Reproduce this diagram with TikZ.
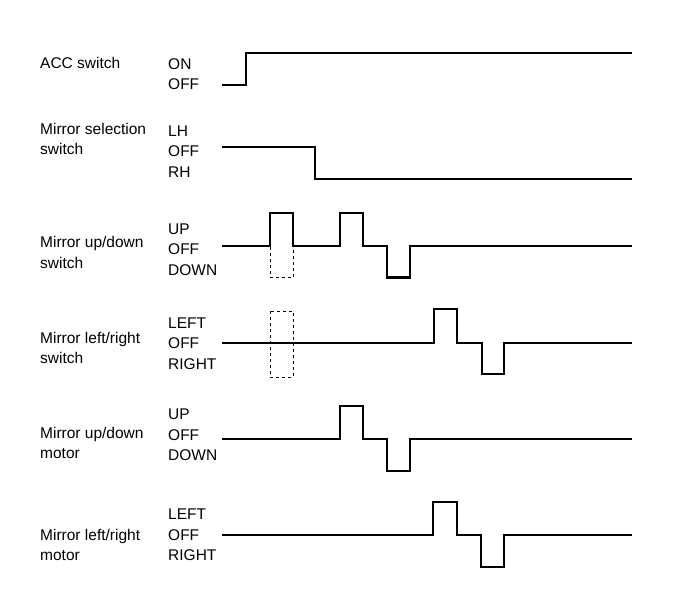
\documentclass[tikz,border=0pt]{standalone}
\usepackage{fontspec}
\setmainfont{Liberation Sans}
\usetikzlibrary{positioning}

\begin{document}
\begin{tikzpicture}[
        x = 1pt, y = -1pt,
        every node/.style = {inner sep = 0pt, font = \fontsize{15.5}{20.5}\selectfont},
        rowname/.style = {anchor = west, align = left},
        levels/.style = {anchor = west, align = left},
        signal/.style = {line width = 2.2pt, line join = miter},
        guide/.style = {line width = 0.9pt, dash pattern = on 3pt off 3pt}
    ]

        \useasboundingbox[fill = white] (0,0) rectangle (688,594);

        % row names
        \node[rowname] (acc) at (40,63) {ACC switch};
        \node[rowname] (sel) at (40,139) {Mirror selection\\switch};
        \node[rowname] (ud_sw) at (40,252.5) {Mirror up/down\\switch};
        \node[rowname] (lr_sw) at (40,348) {Mirror left/right\\switch};
        \node[rowname] (ud_mot) at (40,443) {Mirror up/down\\motor};
        \node[rowname] (lr_mot) at (40,545) {Mirror left/right\\motor};

        % levels
        \node[levels] (acc_lvl) at (168,74) {ON\\OFF};
        \node[levels] (sel_lvl) at (168,151.5) {LH\\OFF\\RH};
        \node[levels] (ud_sw_lvl) at (168,249.5) {UP\\OFF\\DOWN};
        \node[levels] (lr_sw_lvl) at (168,343.5) {LEFT\\OFF\\RIGHT};
        \node[levels] (ud_mot_lvl) at (168,435) {UP\\OFF\\DOWN};
        \node[levels] (lr_mot_lvl) at (168,535) {LEFT\\OFF\\RIGHT};

        % signals
        \draw[signal] (222,85) -| (246,52.7) -- (632,52.7);
        \draw[signal] (222,147) -| (315,179) -- (632,179);
        \draw[signal] (222,246) -| (270,213) -| (293,246) -| (340,213) -| (363,246)
            -| (387,277.5) -| (410,246) -- (632,246);
        \draw[signal] (222,343) -| (434,309) -| (457,343) -| (482,374) -| (504,343) -- (632,343);
        \draw[signal] (222,439) -| (340,406) -| (363,439) -| (387,471) -| (410,439) -- (632,439);
        \draw[signal] (222,535) -| (433,502) -| (457,535) -| (481,567) -| (504,535) -- (632,535);

        % dashed guides
        \draw[guide] (270,247) |- (293,277.5) -- (293,247);
        \draw[guide] (270,311) rectangle (293,377);

    \end{tikzpicture}
\end{document}
